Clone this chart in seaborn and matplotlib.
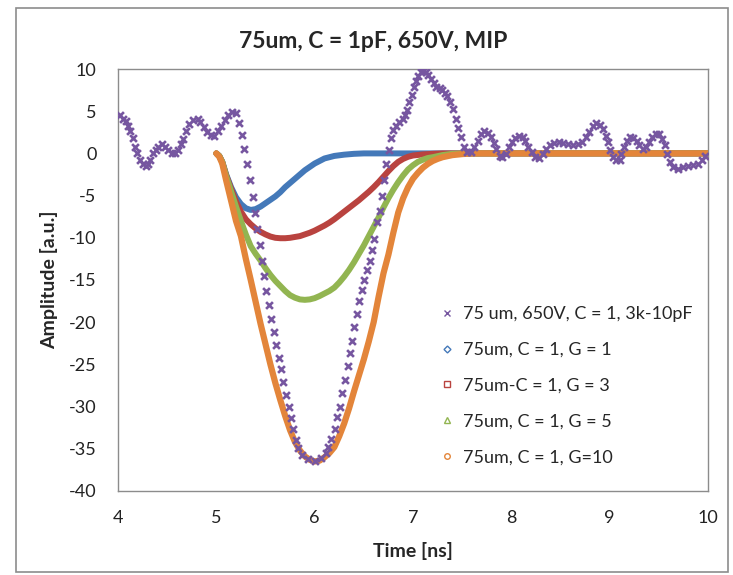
import matplotlib
matplotlib.use("Agg")
import matplotlib.pyplot as plt
from matplotlib.lines import Line2D
from matplotlib.patches import Rectangle
import seaborn as sns

# values
purple_t = [4.02, 4.055, 4.08, 4.10, 4.12, 4.15, 4.17, 4.19, 4.22, 4.25, 4.28, 4.31, 4.33, 4.36, 4.39,
            4.41, 4.45, 4.48, 4.51, 4.55, 4.58, 4.61, 4.64, 4.66, 4.69, 4.72, 4.76, 4.81, 4.83, 4.87,
            4.91, 4.95, 4.98, 5.02, 5.05, 5.09, 5.12, 5.16, 5.20, 5.23, 5.26, 5.28, 5.31, 5.34, 5.37,
            5.39, 5.415, 5.44, 5.46, 5.48, 5.51, 5.54, 5.56, 5.59, 5.61, 5.64, 5.66, 5.68, 5.71, 5.74,
            5.76, 5.78, 5.81, 5.83, 5.87, 5.93, 6.00, 6.06, 6.12, 6.14, 6.17, 6.21, 6.23, 6.26, 6.28,
            6.31, 6.34, 6.36, 6.38, 6.40, 6.43, 6.45, 6.48, 6.50, 6.53, 6.56, 6.58, 6.60, 6.63, 6.66,
            6.68, 6.705, 6.73, 6.76, 6.78, 6.80, 6.83, 6.86, 6.90, 6.92, 6.94, 6.96, 6.99, 7.01, 7.03,
            7.05, 7.08, 7.10, 7.13, 7.15, 7.18, 7.21, 7.23, 7.27, 7.29, 7.33, 7.35, 7.38, 7.41, 7.44,
            7.46, 7.49, 7.52, 7.55, 7.59, 7.62, 7.66, 7.69, 7.72, 7.76, 7.79, 7.82, 7.84, 7.88, 7.91,
            7.95, 7.98, 8.01, 8.04, 8.08, 8.12, 8.14, 8.17, 8.21, 8.24, 8.28, 8.32, 8.35, 8.39, 8.43,
            8.48, 8.53, 8.58, 8.63, 8.68, 8.72, 8.76, 8.79, 8.83, 8.86, 8.90, 8.93, 8.96, 8.98, 9.00,
            9.03, 9.06, 9.10, 9.12, 9.15, 9.18, 9.21, 9.24, 9.28, 9.30, 9.34, 9.37, 9.40, 9.43, 9.47,
            9.50, 9.53, 9.56, 9.58, 9.61, 9.64, 9.69, 9.75, 9.80, 9.85, 9.90, 9.94, 9.97]
purple_amp = [4.6, 4.1, 3.8, 3.3, 2.6, 1.8, 0.75, 0.0, -0.8, -1.3, -1.5, -1.2, -0.8, 0.0, 0.4,
              0.8, 1.1, 0.8, 0.4, 0.0, 0.0, 0.35, 1.1, 1.7, 2.6, 3.5, 4.0, 4.1, 3.7, 3.1,
              2.5, 2.2, 2.1, 2.6, 3.2, 3.9, 4.5, 4.9, 4.8, 3.6, 2.2, 0.55, -1.2, -3.1, -5.2,
              -7.1, -9.0, -10.9, -12.7, -14.5, -16.3, -18.0, -19.6, -21.2, -22.7, -24.2, -25.6, -27.1, -28.6, -30.0,
              -31.4, -32.7, -34.0, -34.9, -35.7, -36.2, -36.4, -36.1, -35.5, -34.8, -33.8, -32.6, -31.2, -30.0, -28.4,
              -26.8, -25.2, -23.7, -22.2, -20.6, -19.0, -17.5, -16.2, -15.0, -13.8, -12.7, -11.5, -10.2, -8.1, -6.8,
              -5.0, -3.1, -1.2, 0.4, 1.8, 2.8, 3.3, 3.7, 4.1, 4.5, 5.2, 6.1, 6.9, 7.9, 8.6,
              9.2, 9.6, 9.8, 9.7, 9.3, 8.8, 8.3, 7.9, 7.7, 7.5, 7.2, 6.8, 6.1, 5.3, 4.1,
              3.0, 1.9, 0.8, 0.15, 0.15, 0.8, 1.5, 2.25, 2.6, 2.4, 1.9, 1.2, 0.55, -0.25, -0.45,
              -0.05, 0.7, 1.3, 1.85, 2.1, 2.0, 1.45, 0.8, 0.15, -0.45, -0.5, -0.05, 0.55, 0.95, 1.25,
              1.35, 1.2, 1.15, 1.05, 1.15, 1.3, 1.9, 2.55, 3.3, 3.6, 3.4, 2.9, 2.1, 1.35, 0.35,
              -0.45, -0.8, -0.8, -0.05, 0.8, 1.5, 1.95, 1.85, 1.5, 0.95, 0.55, 0.7, 1.35, 1.95, 2.35,
              2.35, 1.75, 0.95, -0.05, -1.0, -1.6, -1.8, -1.6, -1.55, -1.4, -1.2, -0.8, -0.35]

blue_t = [5.00, 5.03, 5.06, 5.10, 5.15, 5.20, 5.25, 5.30, 5.35, 5.40, 5.45, 5.50, 5.55, 5.60, 5.65,
          5.70, 5.75, 5.80, 5.85, 5.90, 5.95, 6.00, 6.05, 6.10, 6.15, 6.20, 6.30, 6.40, 6.50, 7.0,
          8.0, 9.0, 10.0]
blue_amp = [0.0, -0.3, -1.0, -2.5, -4.0, -5.2, -6.0, -6.5, -6.7, -6.6, -6.3, -5.9, -5.5, -5.1, -4.6,
            -4.0, -3.5, -3.0, -2.5, -2.0, -1.6, -1.2, -0.9, -0.6, -0.45, -0.3, -0.15, -0.05, 0.0, 0.0,
            0.0, 0.0, 0.0]

red_t = [5.00, 5.03, 5.06, 5.10, 5.15, 5.20, 5.25, 5.30, 5.35, 5.40, 5.45, 5.50, 5.55, 5.60, 5.65,
         5.70, 5.75, 5.80, 5.85, 5.90, 5.95, 6.00, 6.05, 6.10, 6.15, 6.20, 6.25, 6.30, 6.35, 6.40,
         6.45, 6.50, 6.55, 6.60, 6.65, 6.70, 6.75, 6.80, 6.85, 6.90, 6.95, 7.00, 7.10, 7.20, 7.30,
         8.0, 9.0, 10.0]
red_amp = [0.0, -0.3, -1.0, -2.6, -4.2, -5.7, -6.9, -7.8, -8.4, -8.9, -9.3, -9.6, -9.85, -10.0, -10.05,
           -10.05, -10.0, -9.9, -9.8, -9.6, -9.4, -9.15, -8.85, -8.55, -8.2, -7.8, -7.35, -6.9, -6.45, -6.0,
           -5.55, -5.05, -4.55, -4.0, -3.4, -2.75, -2.1, -1.5, -1.0, -0.65, -0.4, -0.25, -0.12, -0.05, 0.0,
           0.0, 0.0, 0.0]

green_t = [5.00, 5.03, 5.06, 5.10, 5.15, 5.20, 5.25, 5.30, 5.35, 5.40, 5.45, 5.50, 5.55, 5.60, 5.65,
           5.70, 5.75, 5.80, 5.85, 5.90, 5.95, 6.00, 6.05, 6.10, 6.15, 6.20, 6.25, 6.30, 6.35, 6.40,
           6.45, 6.50, 6.55, 6.60, 6.65, 6.70, 6.75, 6.80, 6.85, 6.90, 6.95, 7.00, 7.05, 7.10, 7.15,
           7.20, 7.30, 7.40, 7.50, 8.0, 9.0, 10.0]
green_amp = [0.0, -0.3, -1.0, -2.7, -4.5, -6.3, -8.0, -9.6, -11.0, -11.9, -12.7, -13.6, -14.4, -15.1, -15.7,
             -16.3, -16.8, -17.1, -17.3, -17.35, -17.3, -17.15, -16.9, -16.6, -16.3, -15.9, -15.3, -14.6, -13.8, -12.9,
             -11.9, -10.9, -9.8, -8.7, -7.6, -6.4, -5.3, -4.3, -3.4, -2.6, -1.9, -1.4, -1.0, -0.75, -0.55,
             -0.45, -0.2, -0.05, 0.0, 0.0, 0.0, 0.0]

orange_t = [5.00, 5.03, 5.06, 5.10, 5.15, 5.20, 5.25, 5.30, 5.35, 5.40, 5.45, 5.50, 5.55, 5.60, 5.65,
            5.70, 5.75, 5.80, 5.85, 5.90, 5.95, 6.00, 6.05, 6.10, 6.15, 6.20, 6.25, 6.30, 6.35, 6.40,
            6.45, 6.50, 6.55, 6.60, 6.65, 6.70, 6.75, 6.80, 6.85, 6.90, 6.95, 7.00, 7.05, 7.10, 7.15,
            7.20, 7.25, 7.30, 7.40, 7.50, 7.60, 8.0, 9.0, 10.0]
orange_amp = [0.0, -0.4, -1.2, -3.2, -5.6, -8.0, -9.8, -12.5, -15.0, -17.6, -20.2, -22.6, -25.0, -27.2, -29.2,
              -31.1, -32.8, -34.2, -35.2, -35.9, -36.3, -36.5, -36.4, -36.0, -35.5, -34.8, -33.5, -32.0, -30.2, -28.2,
              -26.3, -24.4, -22.3, -20.0, -17.0, -14.2, -12.0, -9.4, -7.0, -5.3, -4.0, -3.0, -2.3, -1.7, -1.25,
              -0.9, -0.65, -0.45, -0.2, -0.08, 0.0, 0.0, 0.0, 0.0]

labels = ["75 um, 650V, C = 1, 3k-10pF", "75um, C = 1, G = 1", "75um-C = 1, G = 3",
          "75um, C = 1, G = 5", "75um, C = 1, G=10"]

c_purple = "#7656a0"
c_blue = "#4479b9"
c_red = "#b9433f"
c_green = "#92b551"
c_orange = "#e3853a"

sns.set_style("white")
plt.rcParams["font.family"] = ["Lato", "DejaVu Sans"]
plt.rcParams["axes.unicode_minus"] = False

fig = plt.figure(figsize=(7.33, 5.75), dpi=100)
ax = fig.add_axes([118 / 733, 1 - 491 / 575, 590 / 733, 422 / 575])

sns.lineplot(x=blue_t, y=blue_amp, color=c_blue, linewidth=4.3, ax=ax, zorder=2, sort=False)
sns.lineplot(x=red_t, y=red_amp, color=c_red, linewidth=4.3, ax=ax, zorder=3, sort=False)
sns.lineplot(x=green_t, y=green_amp, color=c_green, linewidth=4.3, ax=ax, zorder=4, sort=False)
sns.lineplot(x=orange_t, y=orange_amp, color=c_orange, linewidth=4.5, ax=ax, zorder=5, sort=False)
sns.scatterplot(x=purple_t, y=purple_amp, marker="x", s=24, color=c_purple, linewidth=1.9,
                ax=ax, zorder=6)

ax.set_xlim(4, 10)
ax.set_ylim(-40, 10)
ax.set_xticks(range(4, 11))
ax.set_yticks(range(-40, 11, 5))
for s in ax.spines.values():
    s.set_color("#8c8c8c")
    s.set_linewidth(1.0)
ax.tick_params(axis="both", direction="out", length=5.5, width=1, color="#8c8c8c",
               labelsize=13, labelcolor="#222222")
ax.tick_params(axis="y", pad=10)
ax.tick_params(axis="x", pad=8)
ax.set_xlabel("Time [ns]", fontsize=14, fontweight="bold", labelpad=12)
ax.set_ylabel("Amplitude [a.u.]", fontsize=14, fontweight="bold", labelpad=8)

fig.text(373 / 733, 1 - 42 / 575, "75um, C = 1pF, 650V, MIP", ha="center", va="center",
         fontsize=16.5, fontweight="bold")

handles = [
    Line2D([], [], linestyle="", marker="x", markersize=4, markeredgewidth=1, color=c_purple),
    Line2D([], [], linestyle="", marker="D", markersize=3.5, markerfacecolor="white",
           markeredgecolor=c_blue, markeredgewidth=1),
    Line2D([], [], linestyle="", marker="s", markersize=4, markerfacecolor="white",
           markeredgecolor=c_red, markeredgewidth=1),
    Line2D([], [], linestyle="", marker="^", markersize=4, markerfacecolor="white",
           markeredgecolor=c_green, markeredgewidth=1),
    Line2D([], [], linestyle="", marker="o", markersize=4, markerfacecolor="white",
           markeredgecolor=c_orange, markeredgewidth=1),
]
ax.legend(handles, labels, loc="upper left", bbox_to_anchor=(440 / 733, 1 - 306 / 575),
          bbox_transform=fig.transFigure, frameon=False, fontsize=13, handlelength=0.8,
          handletextpad=0.5, labelspacing=1.1, borderpad=0, borderaxespad=0)

fig.patches.append(Rectangle((16 / 733, 1 - 572 / 575), 712 / 733, 564 / 575,
                             transform=fig.transFigure, fill=False, edgecolor="#8c8c8c",
                             linewidth=1.2))

fig.savefig("out.png", dpi=100)
